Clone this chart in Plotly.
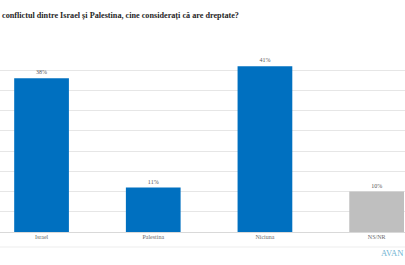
import plotly.graph_objects as go

categories = ["Israel", "Palestina", "Niciuna", "NS/NR"]
values = [38, 11, 41, 10]
labels = ["38%", "11%", "41%", "10%"]
colors = ["#0070C0", "#0070C0", "#0070C0", "#BFBFBF"]

title_text = "conflictul dintre Israel și Palestina, cine considerați că are dreptate?"

fig = go.Figure()
fig.add_trace(go.Bar(
    x=categories, y=values, marker=dict(color=colors, line=dict(width=0)),
    text=labels, textposition="outside", cliponaxis=False,
    textfont=dict(family="Liberation Serif", size=6, color="#595959"),
    width=0.49,
))

plot_h = 265 - 50 - 33

fig.update_layout(
    width=405, height=265,
    margin=dict(l=0, r=0, t=50, b=33),
    paper_bgcolor="white", plot_bgcolor="white",
    showlegend=False,
    xaxis=dict(range=[-0.372, 3.254], showgrid=False, showline=False, ticks="",
               tickfont=dict(family="Liberation Serif", size=6, color="#6B6B6B")),
    yaxis=dict(range=[0, 45], dtick=5, showgrid=True, gridcolor="#E6E6E6", gridwidth=1,
               showticklabels=False, zeroline=True, zerolinecolor="#D9D9D9", zerolinewidth=1),
    annotations=[
        dict(text="<b>" + title_text + "</b>", x=0, y=1 + (50 - 15.5) / plot_h,
             xref="paper", yref="paper", showarrow=False,
             xanchor="left", yanchor="middle",
             font=dict(family="Liberation Serif", size=8.2, color="#262626")),
        dict(text="AVAN", x=1.0, y=-(253 - 232) / plot_h, xref="paper", yref="paper", showarrow=False,
             xanchor="right", yanchor="middle",
             font=dict(family="Liberation Serif", size=8.5, color="#6FB3D2")),
    ],
    shapes=[dict(type="line", xref="paper", yref="paper", x0=0, x1=1,
                 y0=-(247 - 232) / plot_h, y1=-(247 - 232) / plot_h,
                 line=dict(color="#EDEDED", width=1))],
)

fig.write_html("out.html")
